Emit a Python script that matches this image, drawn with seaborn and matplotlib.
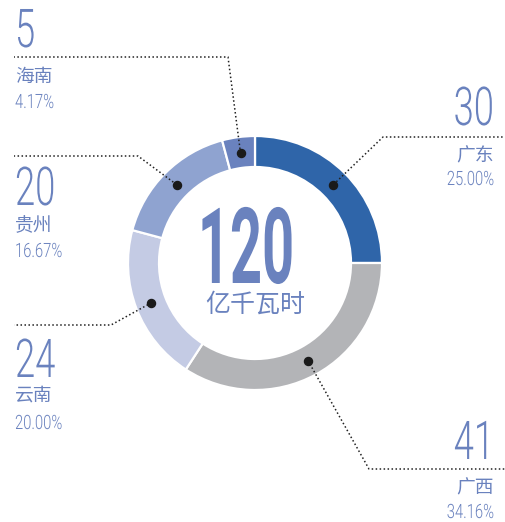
import matplotlib
matplotlib.use("Agg")
import matplotlib.pyplot as plt
import matplotlib.patheffects as pe
from matplotlib.transforms import Affine2D
import seaborn as sns
import numpy as np

# ---- data ----
regions = ["广东", "广西", "云南", "贵州", "海南"]
values = [30, 41, 24, 20, 5]
percents = ["25.00%", "34.16%", "20.00%", "16.67%", "4.17%"]
total_value = "120"
unit = "亿千瓦时"

# ---- style ----
colors = ["#2F65A9", "#B3B4B7", "#C4CBE4", "#8FA3D0", "#6A82BE"]
text_color = "#6A82BE"
line_color = "#222222"

sns.set_theme(style="white")
plt.rcParams["font.family"] = ["Noto Sans CJK SC", "DejaVu Sans"]
NUM_FONT = ["Roboto", "DejaVu Sans"]
CJK_FONT = ["Noto Sans CJK SC", "DejaVu Sans"]

W, H = 505, 522
fig = plt.figure(figsize=(W / 100, H / 100), dpi=100)
ax = fig.add_axes([0, 0, 1, 1])

def Y(y):  # pixel-from-top -> data
    return H - y


class HScale(pe.AbstractPathEffect):
    """Condense glyphs horizontally around x0 (display px)."""
    def __init__(self, sx, x0):
        super().__init__()
        self.sx, self.x0 = sx, x0

    def draw_path(self, renderer, gc, tpath, affine, rgbFace=None):
        aff = affine + Affine2D().translate(-self.x0, 0).scale(self.sx, 1).translate(self.x0, 0)
        renderer.draw_path(gc, tpath, aff, rgbFace)


CX, CY, R, RW = 255, 263, 127, 31

ax.pie(values, colors=colors, startangle=90, counterclock=False, radius=R,
       center=(CX, Y(CY)),
       wedgeprops=dict(width=RW, edgecolor="white", linewidth=1.6))
ax.set_xlim(0, W)
ax.set_ylim(0, H)
ax.set_aspect("equal")
ax.axis("off")

# dot positions derived from data (mid-angle of each wedge, mid-ring radius)
tot = float(sum(values))
cum = np.cumsum([0] + values[:-1])
mid_ang = np.deg2rad(90 - 360 * (cum + np.array(values) / 2) / tot)
r_dot = R - RW / 2 - 0.5
dots = [(CX + r_dot * np.cos(a), Y(CY) + r_dot * np.sin(a)) for a in mid_ang]

# label layout: (elbow_x, elbow_y, end_x, side, num_base, name_center, pct_base)
layout = {
    "广东": (383, 137, 505, "R", 125, 156, 185),
    "广西": (369, 469, 505, "R", 459, 488, 518),
    "云南": (111, 325, 14, "L", 377, 395, 429),
    "贵州": (138, 156, 14, "L", 205, 226, 257),
    "海南": (228, 57, 14, "L", 47, 76, 108),
}

for i, reg in enumerate(regions):
    ex, ey, endx, side, nb, nc, pb = layout[reg]
    dx, dy = dots[i]
    ax.plot([dx, ex, endx], [dy, Y(ey), Y(ey)], color=line_color, lw=1.1,
            linestyle=(0, (1, 1.6)), zorder=3, solid_capstyle="butt")
    ax.plot([dx], [dy], "o", color="#1A1A1A", ms=5.8, zorder=4)
    tx = 494 if side == "R" else 15
    ha = "right" if side == "R" else "left"
    ax.text(tx, Y(nb), str(values[i]), ha=ha, va="baseline", fontsize=38.5,
            fontweight=300, color=text_color, family=NUM_FONT,
            path_effects=[HScale(0.68, tx)])
    ax.text(tx, Y(nc), reg, ha=ha, va="center", fontsize=13.5,
            fontweight=300, color=text_color, family=CJK_FONT)
    ax.text(tx, Y(pb), percents[i], ha=ha, va="baseline", fontsize=14.2,
            fontweight=300, color=text_color, family=NUM_FONT,
            path_effects=[HScale(0.75, tx)])


center_x = 246
ax.text(center_x, Y(283), total_value, ha="center", va="baseline", fontsize=76,
        fontweight="bold", color=text_color, family=NUM_FONT,
        path_effects=[HScale(0.53, center_x)])
ax.text(255, Y(305), unit, ha="center", va="center", fontsize=18,
        fontweight=300, color=text_color, family=CJK_FONT)

fig.savefig("out.png", dpi=100)
